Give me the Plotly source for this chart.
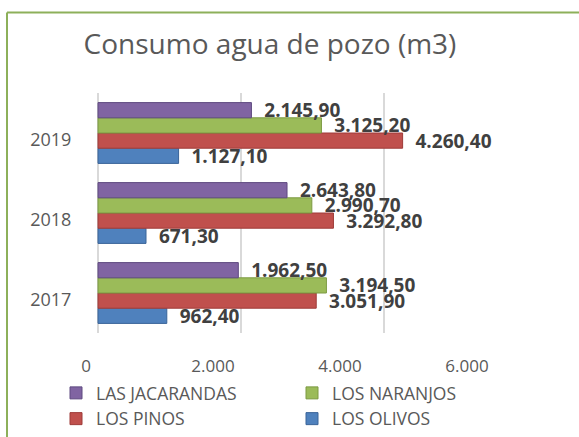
import plotly.graph_objects as go

years = ["2017", "2018", "2019"]
series_names = ["LOS OLIVOS", "LOS PINOS", "LOS NARANJOS", "LAS JACARANDAS"]
los_olivos = [962.40, 671.30, 1127.10]
los_pinos = [3051.90, 3292.80, 4260.40]
los_naranjos = [3194.50, 2990.70, 3125.20]
las_jacarandas = [1962.50, 2643.80, 2145.90]
colors = ["#4F81BD", "#C0504D", "#9BBB59", "#8064A2"]
line_colors = ["#3A6499", "#9E3B38", "#7C9A42", "#5F4A80"]
x_ticks = [0, 2000, 4000, 6000]

W, H = 579, 437
L, R, T, B = 86, 52, 93, 104
pw = W - L - R
ph = H - T - B

def px_x(p):
    return (p - L) / pw

def px_y(p):
    return (H - B - p) / ph

fig = go.Figure()
for name, vals, c, lc in zip(series_names,
                             [los_olivos, los_pinos, los_naranjos, las_jacarandas],
                             colors, line_colors):
    fig.add_trace(go.Bar(
        y=years, x=vals, name=name, orientation="h",
        marker=dict(color=c, line=dict(color=lc, width=1)),
        texttemplate="\u00a0\u00a0%{x:,.2f}", textposition="outside",
        constraintext="none",
        textfont=dict(family="Open Sans", size=19, color="#404040", weight="bold"),
        cliponaxis=False,
    ))

# axis carrier for the (perspective-shifted) value tick labels
fig.add_trace(go.Scatter(x=[], y=[], xaxis="x2", yaxis="y", showlegend=False,
                         hoverinfo="skip"))

fig.update_layout(
    width=W, height=H,
    margin=dict(l=L, r=R, t=T, b=B, pad=0, autoexpand=False),
    paper_bgcolor="white", plot_bgcolor="white",
    separators=",.",
    barmode="group", bargap=0.24, bargroupgap=0,
    font=dict(family="Open Sans", color="#595959"),
    title=dict(text="Consumo agua de pozo (m3)", x=px_x(270), xref="paper", xanchor="center",
               y=1 - 44 / H, yref="container", yanchor="middle",
               font=dict(size=28, color="#595959", family="Open Sans")),
    xaxis=dict(range=[-12 / 0.0715, 6000], domain=[0, 1], tickvals=x_ticks,
               showticklabels=False, showgrid=True, gridcolor="#D9D9D9", gridwidth=1.5,
               zeroline=False, showline=False, automargin=False),
    xaxis2=dict(overlaying="x", range=[0, pw / 0.0635], tickvals=x_ticks, tickformat=",d",
                showgrid=False, zeroline=False, showline=False, side="bottom",
                anchor="y", ticks="outside", ticklen=18, tickcolor="rgba(0,0,0,0)",
                tickfont=dict(size=17, color="#595959"), automargin=False),
    yaxis=dict(type="category", categoryorder="array", categoryarray=years,
               ticks="outside", ticklen=10, tickcolor="rgba(0,0,0,0)", ticklabelshift=7,
               tickfont=dict(size=18, color="#595959"), showgrid=False,
               zeroline=False, showline=False, automargin=False),
    legend=dict(orientation="h", traceorder="reversed", x=px_x(56), xanchor="left",
                y=px_y(375), yanchor="top", entrywidth=191, entrywidthmode="pixels",
                font=dict(size=17.5, color="#595959"), itemclick=False),
    shapes=[
        dict(type="line", xref="paper", yref="paper", x0=px_x(7), x1=px_x(590),
             y0=px_y(12.5), y1=px_y(12.5), line=dict(color="#8DB05A", width=2)),
        dict(type="line", xref="paper", yref="paper", x0=px_x(7), x1=px_x(7),
             y0=px_y(12.5), y1=px_y(445), line=dict(color="#8DB05A", width=2)),
    ],
)

fig.write_html("out.html", config={"displayModeBar": False},
               post_script="document.body.style.margin='0';document.body.style.overflow='hidden';")
